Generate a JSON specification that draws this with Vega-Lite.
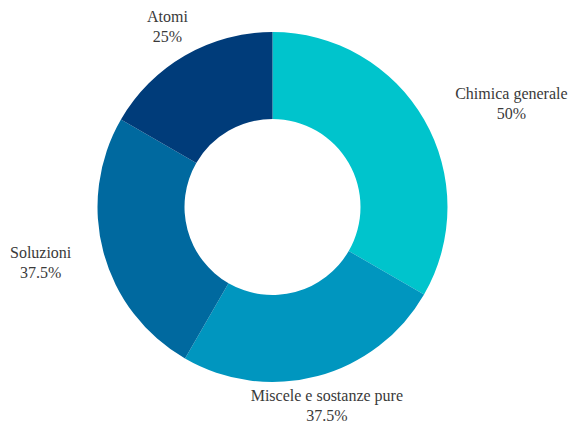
{
  "$schema": "https://vega.github.io/schema/vega-lite/v6.json",
  "autosize": {"type": "none"},
  "width": 545,
  "height": 414,
  "padding": {"left": 0, "top": 0, "right": 23, "bottom": 12},
  "background": "white",
  "view": {"stroke": null},
  "data": {
    "values": [
      {"category": "Chimica generale", "value": 50},
      {"category": "Miscele e sostanze pure", "value": 37.5},
      {"category": "Soluzioni", "value": 37.5},
      {"category": "Atomi", "value": 25}
    ]
  },
  "transform": [
    {"window": [{"op": "row_number", "as": "rank"}]},
    {"calculate": "[datum.category, datum.value + '%']", "as": "label"}
  ],
  "encoding": {
    "theta": {"field": "value", "type": "quantitative", "stack": true},
    "order": {"field": "rank", "type": "quantitative", "sort": "ascending"}
  },
  "layer": [
    {
      "mark": {"type": "arc", "innerRadius": 88, "outerRadius": 175, "stroke": null},
      "encoding": {
        "color": {
          "field": "category",
          "type": "nominal",
          "scale": {
            "domain": ["Chimica generale", "Miscele e sostanze pure", "Soluzioni", "Atomi"],
            "range": ["#00C4CC", "#0096BF", "#00699F", "#003C7A"]
          },
          "legend": null
        }
      }
    },
    {
      "mark": {
        "type": "text",
        "radius": 210,
        "font": "Liberation Serif",
        "fontSize": 16,
        "lineHeight": 20,
        "align": "center",
        "baseline": "middle",
        "color": "#3a3a3a",
        "dx": {"expr": "datum.category === 'Chimica generale' ? 57 : datum.category === 'Soluzioni' ? -29 : 0"},
        "dy": {"expr": "datum.category === 'Miscele e sostanze pure' ? -14 : -8"}
      },
      "encoding": {
        "text": {"field": "label", "type": "nominal"}
      }
    }
  ]
}
